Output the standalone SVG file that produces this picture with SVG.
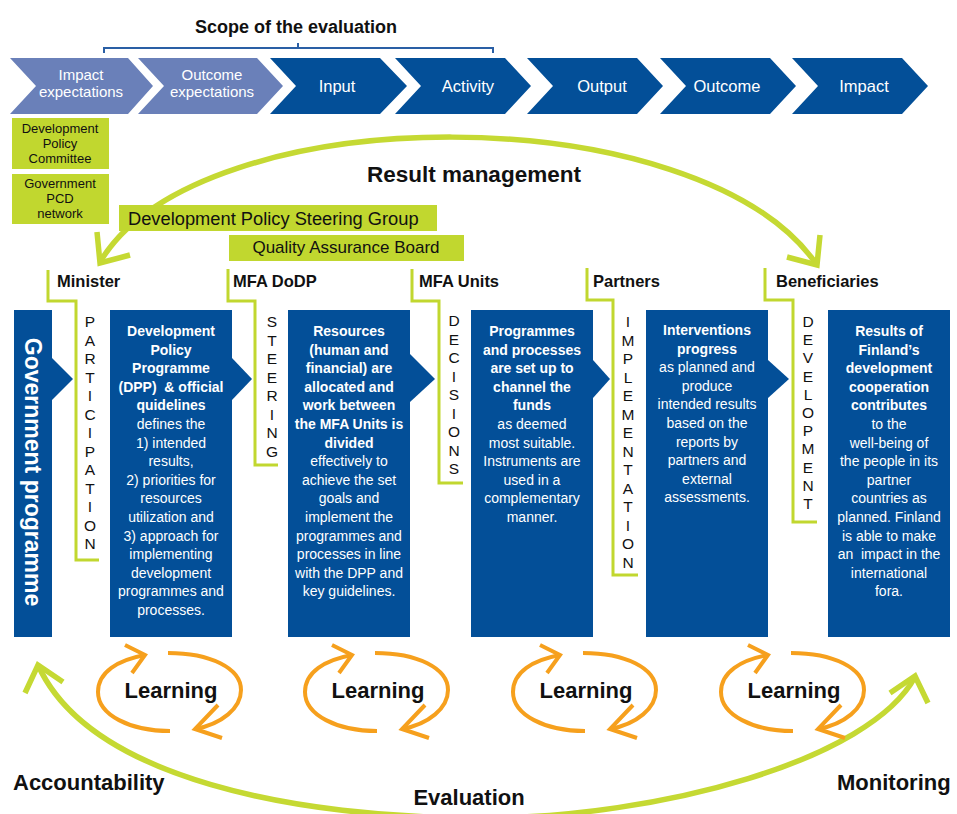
<svg xmlns="http://www.w3.org/2000/svg" xmlns:xlink="http://www.w3.org/1999/xlink" width="957" height="814" viewBox="0 0 957 814">
<style>
.chl{fill:#6a80b9}
.chd{fill:#034f98}
.box{fill:#034f98}
.lime{fill:#c1d72f}
.ct{font-family:"Liberation Sans",Arial,sans-serif;font-size:16.5px;fill:#fff;text-anchor:middle}
.ct2{font-family:"Liberation Sans",Arial,sans-serif;font-size:15px;fill:#fff;text-anchor:middle}
.bt{font-family:"Liberation Sans",Arial,sans-serif;font-size:14px;fill:#fff;text-anchor:middle}
.b{font-weight:bold}
.lbl{font-family:"Liberation Sans",Arial,sans-serif;font-weight:bold;fill:#111}
.gt{font-family:"Liberation Sans",Arial,sans-serif;fill:#111}
.vt{font-family:"Liberation Sans",Arial,sans-serif;font-size:15.5px;fill:#111;text-anchor:middle}
.br{fill:none;stroke:#c1d72f;stroke-width:3}
.ga{fill:none;stroke:#c5d933;stroke-width:5.5}
.or{fill:none;stroke:#f6a01d;stroke-width:4}
</style>
<defs>
<g id="cycle">
<path class="or" d="M0,39 C-40,39 -72,23 -72,0 C-72,-20 -52,-32 -25,-37"/>
<path class="or" d="M-45,-47 L-25,-37 L-38,-19"/>
<path class="or" d="M-2,-39 C40,-39 71,-24 71,-2 C71,16 52,32 25,37"/>
<path class="or" d="M48,13 L25,37 L52,46"/>
</g>
</defs>

<g id="connectors">
<path class="ga" d="M100,262 C200,95 700,95 817,265"/>
<path class="ga" d="M97,232 L100,263 L130,255"/>
<path class="ga" d="M820,235 L817,265 L787,257"/>
<path class="ga" d="M38,665 C90,780 300,818 480,818 C660,818 870,760 915,677"/>
<path class="ga" d="M25,693 L38,665 L63,682"/>
<path class="ga" d="M890,693 L915,676 L928,703"/>
</g>

<g id="scope">
<text class="lbl" x="296" y="33" font-size="18" text-anchor="middle">Scope of the evaluation</text>
<path d="M104,53 L104,48 L493,48 L493,53 M298,48 L298,43" fill="none" stroke="#2a5fa5" stroke-width="2"/>
</g>

<g id="chev-impact-exp"><polygon class="chl" points="10,58 128,58 153,86 128,114 10,114 36,86"/>
<text class="ct2" x="81" y="80">Impact</text><text class="ct2" x="81" y="97">expectations</text></g>
<g id="chev-outcome-exp"><polygon class="chl" points="138,58 257,58 283,86 257,114 138,114 164,86"/>
<text class="ct2" x="212" y="80">Outcome</text><text class="ct2" x="212" y="97">expectations</text></g>
<g id="chev-input"><polygon class="chd" points="270,58 380,58 407,86 380,114 270,114 296,86"/>
<text class="ct" x="337" y="92">Input</text></g>
<g id="chev-activity"><polygon class="chd" points="395,58 505,58 531,86 505,114 395,114 421,86"/>
<text class="ct" x="468" y="92">Activity</text></g>
<g id="chev-output"><polygon class="chd" points="527,58 637,58 663,86 637,114 527,114 553,86"/>
<text class="ct" x="602" y="92">Output</text></g>
<g id="chev-outcome"><polygon class="chd" points="660,58 770,58 796,86 770,114 660,114 686,86"/>
<text class="ct" x="727" y="92">Outcome</text></g>
<g id="chev-impact"><polygon class="chd" points="792,58 902,58 928,86 902,114 792,114 818,86"/>
<text class="ct" x="864" y="92">Impact</text></g>

<g id="dpc"><rect class="lime" x="12" y="118" width="97" height="51"/>
<text class="gt" font-size="13" text-anchor="middle"><tspan x="60" y="133">Development</tspan><tspan x="60" y="148">Policy</tspan><tspan x="60" y="163">Committee</tspan></text></g>
<g id="pcd"><rect class="lime" x="12" y="174" width="97" height="50"/>
<text class="gt" font-size="13" text-anchor="middle"><tspan x="60" y="188">Government</tspan><tspan x="60" y="203">PCD</tspan><tspan x="60" y="218">network</tspan></text></g>
<g id="steering-group"><rect class="lime" x="119" y="205" width="318" height="26"/>
<text class="gt" font-size="18.3" x="128" y="225">Development Policy Steering Group</text></g>
<g id="qab"><rect class="lime" x="229" y="235" width="235" height="26"/>
<text class="gt" font-size="17" x="346" y="253" text-anchor="middle">Quality Assurance Board</text></g>

<text class="lbl" x="474" y="182" font-size="22.5" text-anchor="middle">Result management</text>

<g id="minister">
<polyline class="br" points="48,270 48,301 76,301 76,560 99,560"/>
<text class="lbl" x="57" y="287" font-size="16.5">Minister</text>
<text class="vt"><tspan x="90" y="327">P</tspan><tspan x="90" y="345.5">A</tspan><tspan x="90" y="364">R</tspan><tspan x="90" y="382.5">T</tspan><tspan x="90" y="401">I</tspan><tspan x="90" y="419.5">C</tspan><tspan x="90" y="438">I</tspan><tspan x="90" y="456.5">P</tspan><tspan x="90" y="475">A</tspan><tspan x="90" y="493.5">T</tspan><tspan x="90" y="512">I</tspan><tspan x="90" y="530.5">O</tspan><tspan x="90" y="549">N</tspan></text>
</g>
<g id="mfa-dodp">
<polyline class="br" points="228,269 228,301 255,301 255,465 278,465"/>
<text class="lbl" x="233" y="287" font-size="16.5">MFA DoDP</text>
<text class="vt"><tspan x="272" y="327">S</tspan><tspan x="272" y="345.5">T</tspan><tspan x="272" y="364">E</tspan><tspan x="272" y="382.5">E</tspan><tspan x="272" y="401">R</tspan><tspan x="272" y="419.5">I</tspan><tspan x="272" y="438">N</tspan><tspan x="272" y="456.5">G</tspan></text>
</g>
<g id="mfa-units">
<polyline class="br" points="412,269 412,301 439,301 439,483 463,483"/>
<text class="lbl" x="419" y="287" font-size="16.5">MFA Units</text>
<text class="vt"><tspan x="454" y="326">D</tspan><tspan x="454" y="344.5">E</tspan><tspan x="454" y="363">C</tspan><tspan x="454" y="381.5">I</tspan><tspan x="454" y="400">S</tspan><tspan x="454" y="418.5">I</tspan><tspan x="454" y="437">O</tspan><tspan x="454" y="455.5">N</tspan><tspan x="454" y="474">S</tspan></text>
</g>
<g id="partners">
<polyline class="br" points="587,268 587,300 613,300 613,575 638,575"/>
<text class="lbl" x="593" y="287" font-size="16.5">Partners</text>
<text class="vt"><tspan x="628" y="327">I</tspan><tspan x="628" y="345.5">M</tspan><tspan x="628" y="364">P</tspan><tspan x="628" y="382.5">L</tspan><tspan x="628" y="401">E</tspan><tspan x="628" y="419.5">M</tspan><tspan x="628" y="438">E</tspan><tspan x="628" y="456.5">N</tspan><tspan x="628" y="475">T</tspan><tspan x="628" y="493.5">A</tspan><tspan x="628" y="512">T</tspan><tspan x="628" y="530.5">I</tspan><tspan x="628" y="549">O</tspan><tspan x="628" y="567.5">N</tspan></text>
</g>
<g id="beneficiaries">
<polyline class="br" points="765,268 765,300 793,300 793,522 817,522"/>
<text class="lbl" x="776" y="287" font-size="16.5">Beneficiaries</text>
<text class="vt"><tspan x="808" y="327">D</tspan><tspan x="808" y="345.2">E</tspan><tspan x="808" y="363.4">V</tspan><tspan x="808" y="381.6">E</tspan><tspan x="808" y="399.8">L</tspan><tspan x="808" y="418">O</tspan><tspan x="808" y="436.2">P</tspan><tspan x="808" y="454.4">M</tspan><tspan x="808" y="472.6">E</tspan><tspan x="808" y="490.8">N</tspan><tspan x="808" y="509">T</tspan></text>
</g>

<g id="gov-programme">
<rect class="box" x="14" y="310" width="38" height="327"/>
<polygon class="box" points="52,358 73,379 52,400"/>
<text transform="translate(33,472) rotate(90)" x="0" y="8" font-family="Liberation Sans, Arial, sans-serif" font-weight="bold" font-size="23" fill="#fff" text-anchor="middle">Government programme</text>
</g>

<g id="box-dpp">
<rect class="box" x="110" y="310" width="122" height="327"/>
<polygon class="box" points="232,358 252,379 232,400"/>
<text class="bt b"><tspan x="171" y="336">Development</tspan><tspan x="171" y="354.6">Policy</tspan><tspan x="171" y="373.2">Programme</tspan></text>
<text class="bt b" xml:space="preserve" x="171" y="391.8">(DPP)  &amp; official</text>
<text class="bt b"><tspan x="171" y="410.4">quidelines</tspan></text>
<text class="bt"><tspan x="171" y="429">defines the</tspan><tspan x="171" y="447.6">1) intended</tspan><tspan x="171" y="466.2">results,</tspan><tspan x="171" y="484.8">2) priorities for</tspan><tspan x="171" y="503.4">resources</tspan><tspan x="171" y="522">utilization and</tspan><tspan x="171" y="540.6">3) approach for</tspan><tspan x="171" y="559.2">implementing</tspan><tspan x="171" y="577.8">development</tspan><tspan x="171" y="596.4">programmes and</tspan><tspan x="171" y="615">processes.</tspan></text>
</g>

<g id="box-resources">
<rect class="box" x="288" y="310" width="122" height="327"/>
<polygon class="box" points="410,354 435,379 410,402"/>
<text class="bt b"><tspan x="349" y="336">Resources</tspan><tspan x="349" y="354.6">(human and</tspan><tspan x="349" y="373.2">financial) are</tspan><tspan x="349" y="391.8">allocated and</tspan><tspan x="349" y="410.4">work between</tspan><tspan x="349" y="429">the MFA Units is</tspan><tspan x="349" y="447.6">divided</tspan></text>
<text class="bt"><tspan x="349" y="466.2">effectively to</tspan><tspan x="349" y="484.8">achieve the set</tspan><tspan x="349" y="503.4">goals and</tspan><tspan x="349" y="522">implement the</tspan><tspan x="349" y="540.6">programmes and</tspan><tspan x="349" y="559.2">processes in line</tspan><tspan x="349" y="577.8">with the DPP and</tspan><tspan x="349" y="596.4">key guidelines.</tspan></text>
</g>

<g id="box-programmes">
<rect class="box" x="471" y="310" width="122" height="327"/>
<polygon class="box" points="593,360 610,379 593,398"/>
<text class="bt b"><tspan x="532" y="336">Programmes</tspan><tspan x="532" y="354.6">and processes</tspan><tspan x="532" y="373.2">are set up to</tspan><tspan x="532" y="391.8">channel the</tspan><tspan x="532" y="410.4">funds</tspan></text>
<text class="bt"><tspan x="532" y="429">as deemed</tspan><tspan x="532" y="447.6">most suitable.</tspan><tspan x="532" y="466.2">Instruments are</tspan><tspan x="532" y="484.8">used in a</tspan><tspan x="532" y="503.4">complementary</tspan><tspan x="532" y="522">manner.</tspan></text>
</g>

<g id="box-interventions">
<rect class="box" x="646" y="310" width="122" height="327"/>
<polygon class="box" points="768,360 789,379 768,398"/>
<text class="bt b"><tspan x="707" y="335">Interventions</tspan><tspan x="707" y="353.6">progress</tspan></text>
<text class="bt"><tspan x="707" y="372.2">as planned and</tspan><tspan x="707" y="390.8">produce</tspan><tspan x="707" y="409.4">intended results</tspan><tspan x="707" y="428">based on the</tspan><tspan x="707" y="446.6">reports by</tspan><tspan x="707" y="465.2">partners and</tspan><tspan x="707" y="483.8">external</tspan><tspan x="707" y="502.4">assessments.</tspan></text>
</g>

<g id="box-results">
<rect class="box" x="828" y="310" width="122" height="327"/>
<text class="bt b"><tspan x="889" y="336">Results of</tspan><tspan x="889" y="354.6">Finland’s</tspan><tspan x="889" y="373.2">development</tspan><tspan x="889" y="391.8">cooperation</tspan><tspan x="889" y="410.4">contributes</tspan></text>
<text class="bt"><tspan x="889" y="429">to the</tspan><tspan x="889" y="447.6">well-being of</tspan><tspan x="889" y="466.2">the people in its</tspan><tspan x="889" y="484.8">partner</tspan><tspan x="889" y="503.4">countries as</tspan><tspan x="889" y="522">planned. Finland</tspan><tspan x="889" y="540.6">is able to make</tspan></text>
<text class="bt" xml:space="preserve" x="889" y="559.2">an  impact in the</text>
<text class="bt"><tspan x="889" y="577.8">international</tspan><tspan x="889" y="596.4">fora.</tspan></text>
</g>

<g id="learning1"><use xlink:href="#cycle" href="#cycle" transform="translate(170,692)"/>
<text class="lbl" x="171" y="698" font-size="22" text-anchor="middle">Learning</text></g>
<g id="learning2"><use xlink:href="#cycle" href="#cycle" transform="translate(377,692)"/>
<text class="lbl" x="378" y="698" font-size="22" text-anchor="middle">Learning</text></g>
<g id="learning3"><use xlink:href="#cycle" href="#cycle" transform="translate(585,692)"/>
<text class="lbl" x="586" y="698" font-size="22" text-anchor="middle">Learning</text></g>
<g id="learning4"><use xlink:href="#cycle" href="#cycle" transform="translate(793,692)"/>
<text class="lbl" x="794" y="698" font-size="22" text-anchor="middle">Learning</text></g>

<text class="lbl" x="13" y="790" font-size="22">Accountability</text>
<text class="lbl" x="469" y="805" font-size="22" text-anchor="middle">Evaluation</text>
<text class="lbl" x="837" y="790" font-size="22">Monitoring</text>
</svg>
